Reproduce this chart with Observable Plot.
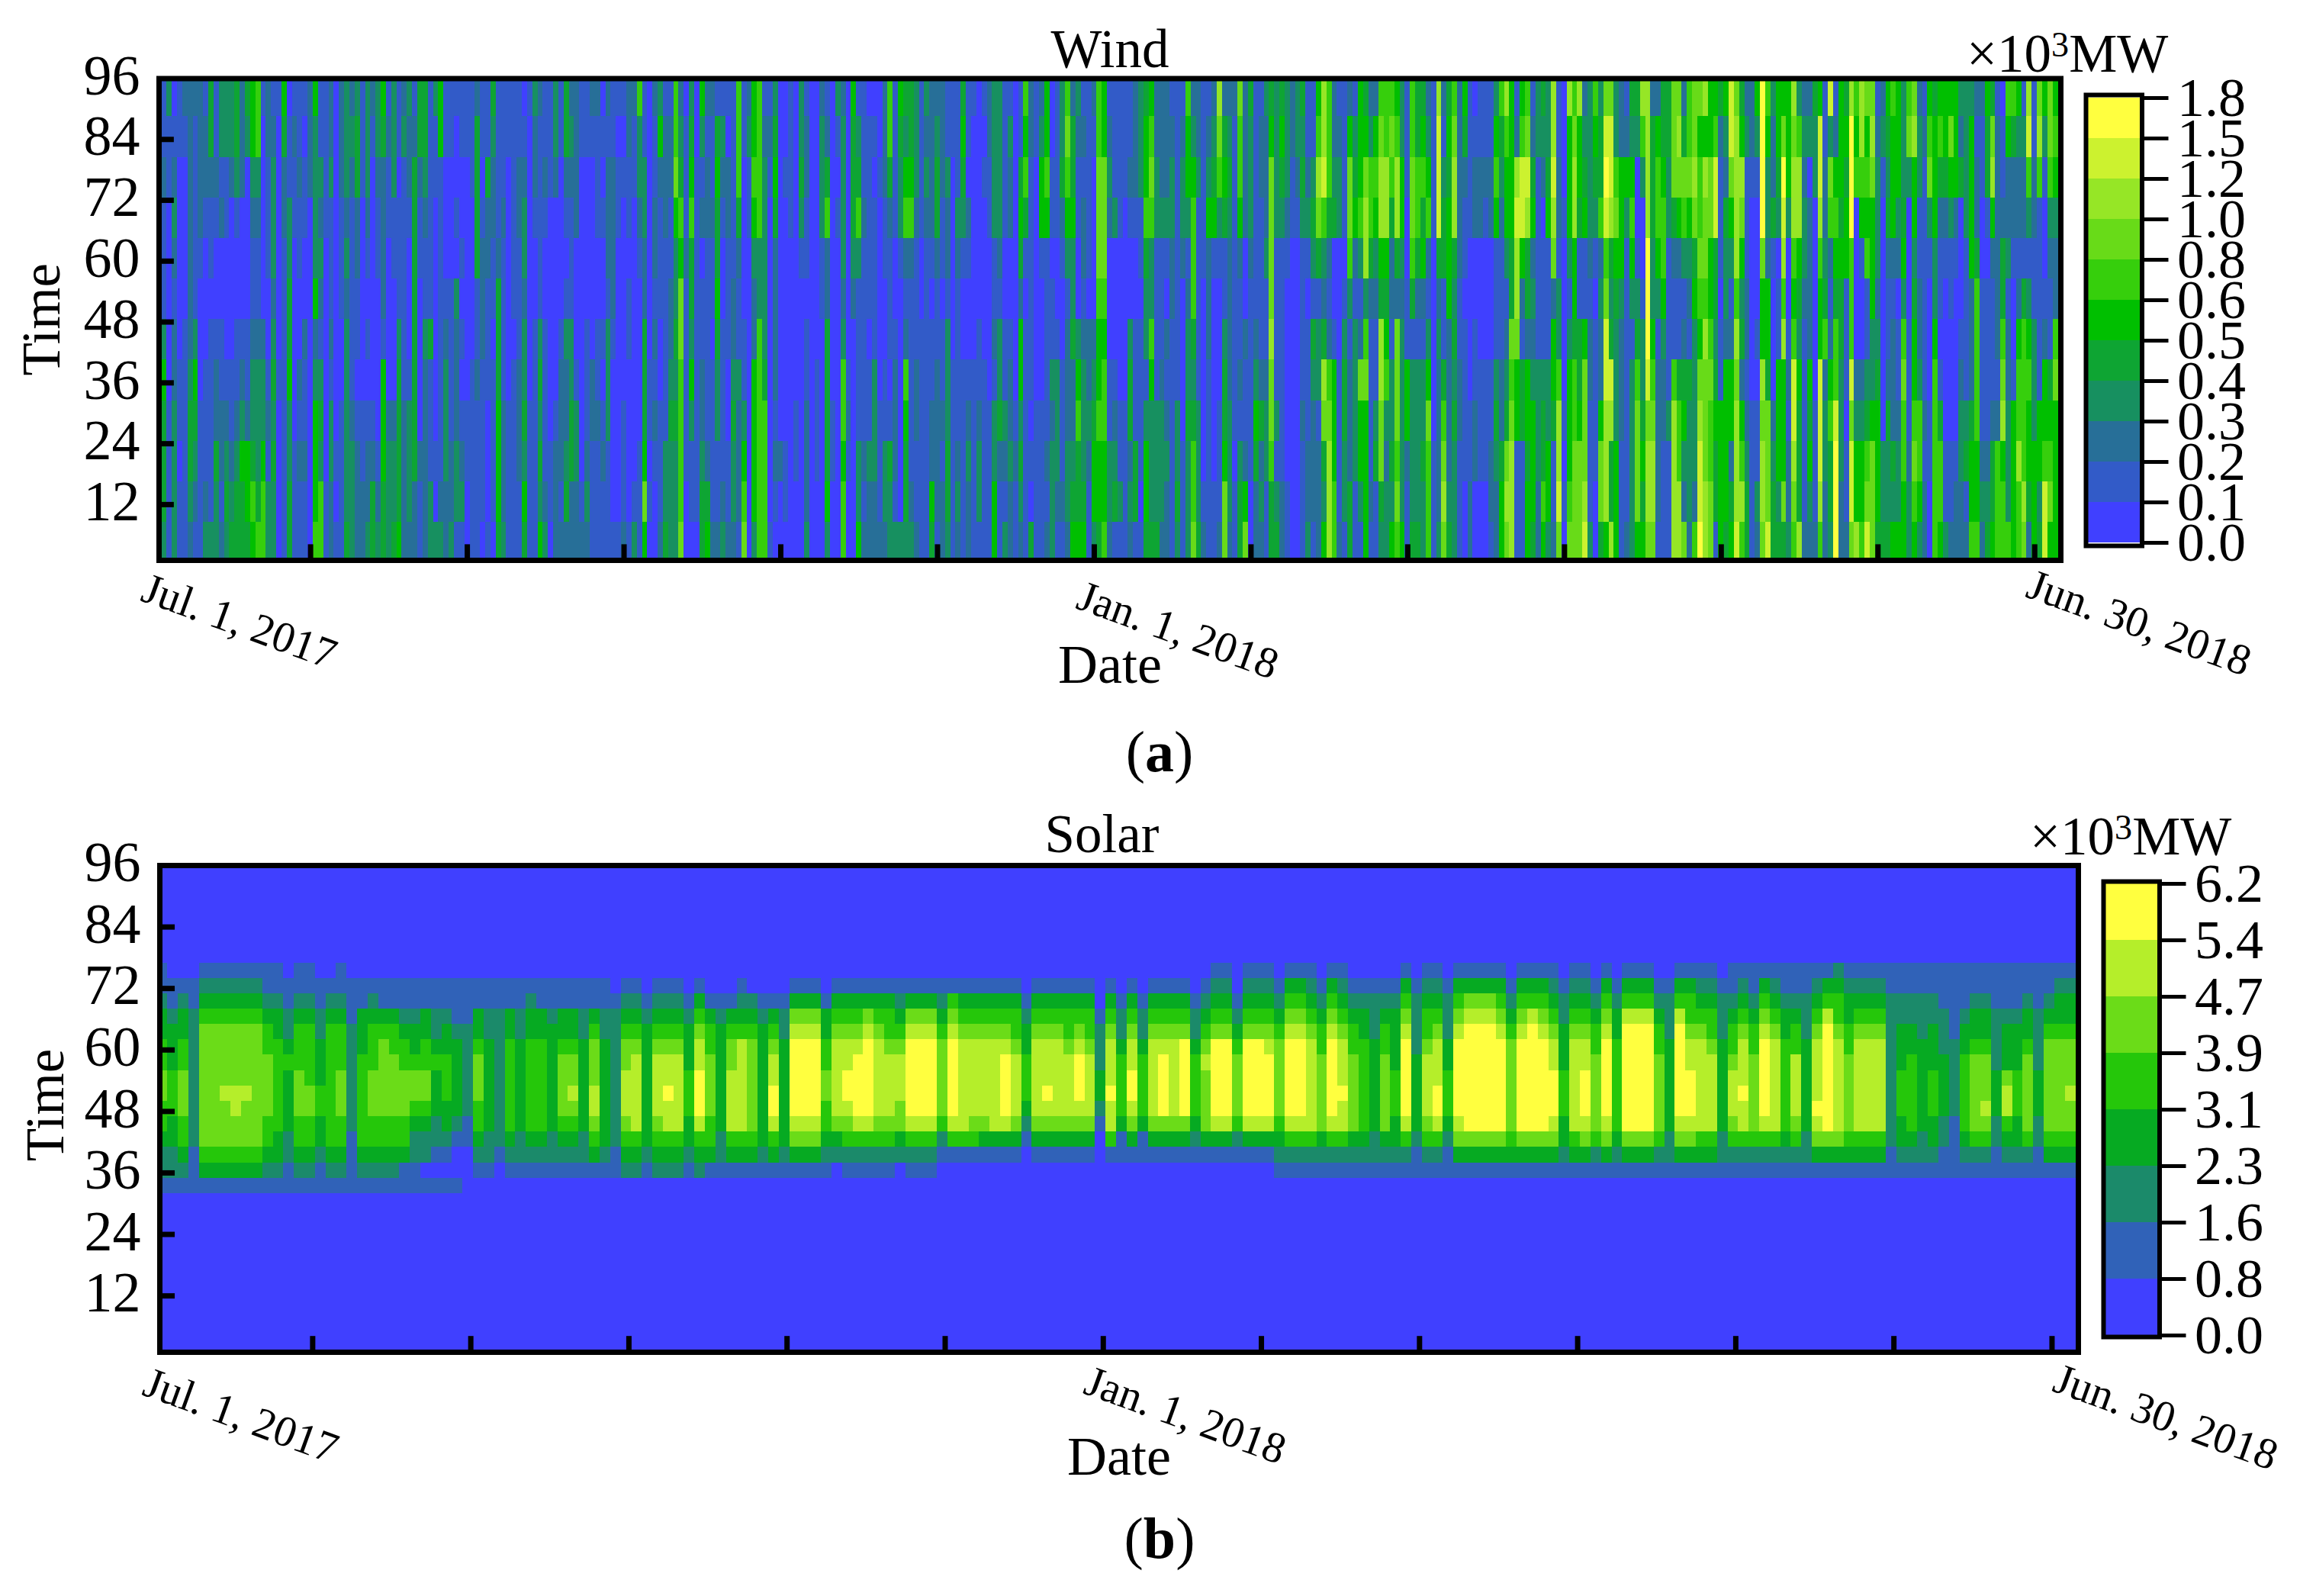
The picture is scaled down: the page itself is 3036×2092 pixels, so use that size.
<!DOCTYPE html>
<html><head><meta charset="utf-8">
<script src="https://cdn.jsdelivr.net/npm/d3@7"></script>
<script src="https://cdn.jsdelivr.net/npm/@observablehq/plot@0.6"></script>
<style>
html,body{margin:0;padding:0;background:#fff;overflow:hidden}
#page{position:relative;width:3036px;height:2092px;font-family:"Liberation Serif",serif;color:#000}
.h{position:absolute;white-space:nowrap;line-height:1}
.h sup{font-size:.65em;line-height:0;vertical-align:baseline;position:relative;top:-.42em}
</style></head><body><div id="page"></div>
<script>
// Level codes: one word per day, twelve 8-step time bands, top (89-96) to bottom (1-8).
const wind1 = `112111354443 112111354443 311000001111 012321223333 110000011011 210000111111 222222234432 211111354321 222210001111 122100011123 442110111113 112100122433 331200112212 331100012343 332000011234 443100112344 222000123544 430000112554 553211233465 663211233346 100000233566 221110012133 123332343433 100000010000 542211111111 011334453344 121100000111 112110021211 101100211211 222000000000 533335235556 113232134366 111100000011 223111213322 000000000101 222111001111`;
const wind2 = `333232333334 232111112333 344221101222 111000001122 333210101223 210000001244 332110000123 542222155544 121100002333 333110002334 110111344445 231111112222 322100013332 124444444422 442110000211 443211322222 111111411133 311000000103 551111111123 110001233322 110001111223 100103222331 110010101231 110000001100 111000011111 244441121111 110122211110 114221110001 432211011110 111124445554 111211112223 110000001111 111111011111 112211122211 012332334354 100000001111 322100111111`;
const wind3 = `211111343435 112100111123 111000000110 332000001222 110000122212 442101322342 232111334422 222200013322 110000000012 110000111232 210000022111 211100112111 010100101211 212221333111 112222100001 101100000001 101000001112 221101100001 211000000013 633210000111 113322444575 000000011010 211221212100 352111001112 122211111334 122112234333 667533434333 234657766667 011121111100 345644353110 001111111110 531201122344 212211111245 211211011112 145445433112 132100111123 102211100112`;
const wind4 = `111112234332 666421132221 110000113567 231100000000 556532255553 666633666666 123333346666 121000000001 345422221210 000000000200 001000000110 111100000000 000000001100 334310000000 122110112223 000000000000 000000011100 233311000000 124622444453 000000001100 310100000000 233332366566 000000012100 544432000000 134631111335 111211111212 011111011322 010111133322 001000001112 222110011332 664211101433 111100122213 543310000003 435621265443 445621111123 333211122112`;
const wind5 = `111100111111 323211111111 222210112254 234421122221 222110112122 113221333443 110000011111 111321111232 454310011111 110210012322 100000011111 000000112331 101000011111 221100001111 333311213355 333321334211 111100113213 132200122322 000000001211 114542553432 656410111111 221111110104 110000001111 235510001111 556511111212 001101132333 111100133321 334210011121 676531222332 244533422345 321100356445 121221233345 111110223211 210000234553 667776556554 557776566556 123200011332`;
const wind6 = `111300012341 111100001131 111000001111 112100344232 222100111441 333110111101 455643313554 567633653334 223311113334 222311123332 222310212322 123322111111 111111113343 123320000111 655312334333 235666434667 223111113334 111110000012 123522211111 234510000011 876310001112 245411344577 234322223332 211111111011 766521121344 222200211257 433321111100 111111235422 122111124232 322231123311 457777877644 333311113134 454311111122 333210000011 221100000000 332100000000`;
const wind7 = `434311112111 112310111223 113431432221 568741331222 889632487435 666421267888 223400155566 123300011112 111101344331 257763122244 134521333311 555631275531 457883675555 236642111121 256532113411 678854887743 668854563233 676422133435 568842777676 335532333335 111001155211 667764133334 446642133334 456452133433 235621357666 111100000111 899942322223 213441146787 454555222234 678843434333 222221122111 542110111100 111100001122 012200112200 112200011100 112100011100 112200011221`;
const wind8 = `356511134322 643211122455 865531234787 555544767888 128988755111 569952144111 679844255455 124523235554 331111133322 432011134465 334511133553 889872554112 112213368897 000100001010 855531355567 678855466777 855411445777 234511577789 333321221113 654310111100 344623225774 79a967998885 799843498448 336754333555 225553222111 125311111112 435653133333 430013467775 863001334545 8888aaa97887 244433567887 256653122221 445665322111 443311113111 777421168888 787521146688`;
const wind9 = `247631245327 667532143332 778745333326 75667657899a 858776877788 557755676677 569944345441 421110115555 532433255554 997531255245 788886878889 458753425686 231112212344 221000001111 531000101132 aaaa75587887 653325547779 322410002344 554301155534 57a986855574 555300121223 878865699876 368854354448 232332111112 230222254532 433000001112 599865599986 112234623322 937621256443 125654669aaa 555454433322 454551110112 8aaa66697997 656000023558 886510023556 756561134679`;
const wind10 = `787555335777 123332345554 231000000334 543421124334 655521222435 555320112335 333453676655 673000111233 785534556765 233112236653 121111112122 567310001100 455533566666 564211014665 554210000113 575311000112 555210000122 324000123322 333311113412 355552224556 212246666556 211001111232 544101111234 478521112445 122222212666 011244678566 652231223336 642210015555 532212566866 132214666687 896313565542 112211333555 786111115534 531001255699 776321145675 565322675555 544322554443`;

// Level codes: one word per two days, fifteen 3-step time bands from 32 to 76, bottom to top (everything else is the lowest level).
const solar1 = `122344554433211 122334443332110 123445554433210 111222222222110 134555555554321 134555555554321 134555655554321 134556655554321 134555655554321 134555555554321 123445555443211 123344444433211 112233334322110 123445554443211 123445544443211 112334433322110 123444444443210 123445554443211 111122222221110 123444444333110 123445554443210 123445555543110 123445555443110 113445554432110 112234554332110 102234554433110 101223334322110 101233444332110 100123333321110 000112222221110`;
const solar2 = `012344555433110 012233333322110 001222222222110 012344444433110 012233333322110 012344444433210 012344444433110 012233333332110 012345555433110 012345655433110 012233333322110 013456655543110 012333333322110 011222222222100 023456665543210 023466666543210 012333333332100 023456666543210 023466766543210 023466666543210 012334443332100 023467776654310 013445555443100 012233333332100 013466665543100 013466666643210 013455555543200 012333333332100 013467766543100 012333333322100`;
const solar3 = `013567777765310 013567777765310 013567777765310 012344554433100 002356666654310 012456776654310 012467777654310 012467777765310 012456666654310 012456666544310 002355666543210 012467777765310 012467777765310 012467777765310 001245555543210 001467777765410 001466666654310 001456666654310 001356666654310 001366666654310 001367777654310 001356666544310 000123444332100 001356666654310 001356766654310 001356666654310 001356666544310 001356777654310 001356666544310 000012332221000`;
const solar4 = `001466766654310 001134444322100 001356776654310 001134444322100 001356666654310 001357777654310 001356666654310 001357777754310 001234444322100 001355556543210 001367777754321 001367777754321 001245555432100 001367777754321 001367777754321 001367777654321 012345555543210 012467777765431 012467777765431 012466666654321 012355555443210 012467777765431 012466766654321 012355555443210 012344444433210 012233333322210 012355555443210 012334443333210 012467777765431 011233333222210`;
const solar5 = `012456666544321 012467766654321 011234443322210 013567777765431 013577777776531 013577777776531 013577777776531 013577777765431 013455555543210 013577777765431 013577777776431 013577777765431 013567776654321 012334443332210 013466666654321 013567776654321 012455555443210 013567777765431 012344444433210 013577777776431 013577777776431 013577777776431 012455555443210 012233333322210 013567777776431 013567776654431 013466666654321 013466666544321 012233333322210 012456665443211`;
const solar6 = `012466766654321 012455555443211 012467777765431 012466666654321 012344444433211 012456666443211 012233333322211 013567666654321 013577777776431 013566666654432 013455555443321 013466666654321 013466666654321 013466666654321 011222222222211 012334443332211 012344444332211 012233333322211 012334443332211 011223333222111 011112222211111 012344444332111 012455555433211 012456555433211 011223332222111 012346653332111 012334443332111 012455555433211 011223332222111 013455555543211 013455555543321 013455655543321 013445555443321`;

const windTicks = ["0.0","0.1","0.2","0.3","0.4","0.5","0.6","0.8","1.0","1.2","1.5","1.8"];
const windColors = ["#4040ff","#325bc8","#276f98","#179060","#0ea533","#00bf00","#36cf0c","#68db18","#96e626","#ccf22f","#ffff3f"];
const solarTicks = ["0.0","0.8","1.6","2.3","3.1","3.9","4.7","5.4","6.2"];
const solarColors = ["#4040ff","#3062b8","#1b8a6a","#06aa22","#25c70a","#6bdc18","#b5ee2a","#ffff3f"];
const timeTicks = [12,24,36,48,60,72,84,96];
const dateTicks = [30,60,90,120,150,180,210,240,270,300,330,360];
const dateLabels = [[1,"Jul. 1, 2017"],[180,"Jan. 1, 2018"],[365,"Jun. 30, 2018"]];

const FONT = "Liberation Serif";
const page = document.getElementById("page");
const words = s => s.trim().split(/\s+/);
const mid = t => t.slice(0,-1).map((v,i)=>(+v + +t[i+1])/2);

function levelRows(cols, span, t0, bandH, ticks){
  const mids = mid(ticks), out = [];
  cols.forEach((c,i)=>{
    for(let b=0;b<c.length;b++){
      const lvl = parseInt(c[b],16);
      out.push({x1:1+i*span-0.5, x2:1+i*span-0.5+span, y1:t0+b*bandH, y2:t0+(b+1)*bandH, v:mids[lvl]});
    }
  });
  return out;
}
function colorScale(ticks, colors){
  return {type:"threshold", domain:ticks.slice(1,-1).map(Number), range:colors};
}

function panel(o){
  const g = Plot.plot({
    width:3036, height:o.h, marginTop:o.top, marginBottom:o.h-o.bottom, marginLeft:o.left, marginRight:3036-o.right,
    style:{fontFamily:FONT, background:"transparent", color:"#000", overflow:"visible"},
    x:{domain:[1,365], axis:null}, y:{domain:[1,96], axis:null},
    color:colorScale(o.ticks,o.colors),
    marks:[
      Plot.frame({fill:o.colors[0]}),
      Plot.rect(o.rows,{x1:"x1",x2:"x2",y1:"y1",y2:"y2",fill:"v",clip:"frame",shapeRendering:"crispEdges"}),
      Plot.ruleX(dateTicks,{y1:1,y2:4.1,stroke:"#000",strokeWidth:7}),
      Plot.ruleY(timeTicks.slice(0,-1),{x1:1,x2:3.9,stroke:"#000",strokeWidth:7}),
      Plot.frame({stroke:"#000",strokeWidth:7}),
      Plot.axisY(timeTicks,{anchor:"left",tickSize:0,tickPadding:25,fontSize:74,label:null,dy:-3,fill:"#000"}),
      ...dateLabels.map(([d,t],i)=>Plot.text([t],{x:()=>d,y:()=>1,text:q=>q,rotate:20,textAnchor:"start",lineAnchor:"bottom",fontSize:57,fill:"#000",dx:o.dateDx[i],dy:o.dateDy[i]})),
      Plot.text([o.title],{frameAnchor:"top",lineAnchor:"bottom",fontSize:71,fill:"#000",dx:o.titleDx,dy:o.titleDy}),
      Plot.text(["Date"],{frameAnchor:"bottom",lineAnchor:"bottom",fontSize:72,fill:"#000",dy:160}),
      Plot.text(["Time"],{frameAnchor:"left",lineAnchor:"bottom",textAnchor:"middle",rotate:-90,fontSize:71,fill:"#000",dx:o.timeDx,dy:o.timeDy})
    ]
  });
  g.style.position="absolute"; g.style.left="0"; g.style.top=o.y+"px"; g.style.maxWidth="none";
  page.appendChild(g);
}
function legend(o){
  const left=o.boxLeft-20, top=o.boxTop-60, bottomPad=60;
  const segs=o.ticks.slice(0,-1).map((t,i)=>({a:t,b:o.ticks[i+1],v:mid(o.ticks)[i]}));
  const g=Plot.plot({
    width:3036-left, height:o.boxBottom-o.boxTop+60+bottomPad,
    marginLeft:20, marginRight:3036-o.boxRight, marginTop:60, marginBottom:bottomPad,
    style:{fontFamily:FONT, background:"transparent", color:"#000", overflow:"visible"},
    x:{domain:[0,1],axis:null},
    y:{type:"point",domain:o.ticks,padding:0,reverse:true},
    color:colorScale(o.ticks,o.colors),
    marks:[
      Plot.rect(segs,{x1:0,x2:1,y1:"a",y2:"b",fill:"v",shapeRendering:"crispEdges"}),
      Plot.frame({stroke:"#000",strokeWidth:6}),
      Plot.axisY({anchor:"right",tickSize:34,tickPadding:12,strokeWidth:5,fontSize:72,label:null,fill:"#000"})
    ]
  });
  g.style.position="absolute"; g.style.left=left+"px"; g.style.top=top+"px"; g.style.maxWidth="none";
  page.appendChild(g);
}
function html(markup,x,baseline,size,anchor){
  const d=document.createElement("div"); d.className="h"; d.innerHTML=markup;
  d.style.fontSize=size+"px"; d.style.top=(baseline-0.8375*size)+"px";
  if(anchor==="middle"){d.style.left=x+"px";d.style.transform="translateX(-50%)";} else d.style.left=x+"px";
  page.appendChild(d);
}

const windCols=[wind1,wind2,wind3,wind4,wind5,wind6,wind7,wind8,wind9,wind10].flatMap(words).map(s=>[...s].reverse().join(""));
const solarCols=[solar1,solar2,solar3,solar4,solar5,solar6].flatMap(words);

panel({y:0,h:1040,top:102.5,bottom:734,left:208,right:2701,title:"Wind",ticks:windTicks,colors:windColors,
  rows:levelRows(windCols,1,0.5,8,windTicks),
  dateDx:[-26,-26,-48],dateDy:[52,62,47],titleDx:0,titleDy:-15.5,timeDx:-131,timeDy:0});
panel({y:1040,h:1052,top:94,bottom:732,left:209,right:2724,title:"Solar",ticks:solarTicks,colors:solarColors,
  rows:levelRows(solarCols,2,32,3,solarTicks),
  dateDx:[-25,-28,-36],dateDy:[55,53,50],titleDx:-22.5,titleDy:-18,timeDx:-127,timeDy:-5});
legend({boxLeft:2733.5,boxRight:2807,boxTop:123.5,boxBottom:714.5,ticks:windTicks,colors:windColors});
legend({boxLeft:2756.5,boxRight:2830,boxTop:1155,boxBottom:1752,ticks:solarTicks,colors:solarColors});
html("×10<sup>3</sup>MW",2578,94,71);
html("×10<sup>3</sup>MW",2661,1120,71);
html("(<b>a</b>)",1520,1011,76,"middle");
html("(<b>b</b>)",1520,2042,76,"middle");
</script></body></html>
